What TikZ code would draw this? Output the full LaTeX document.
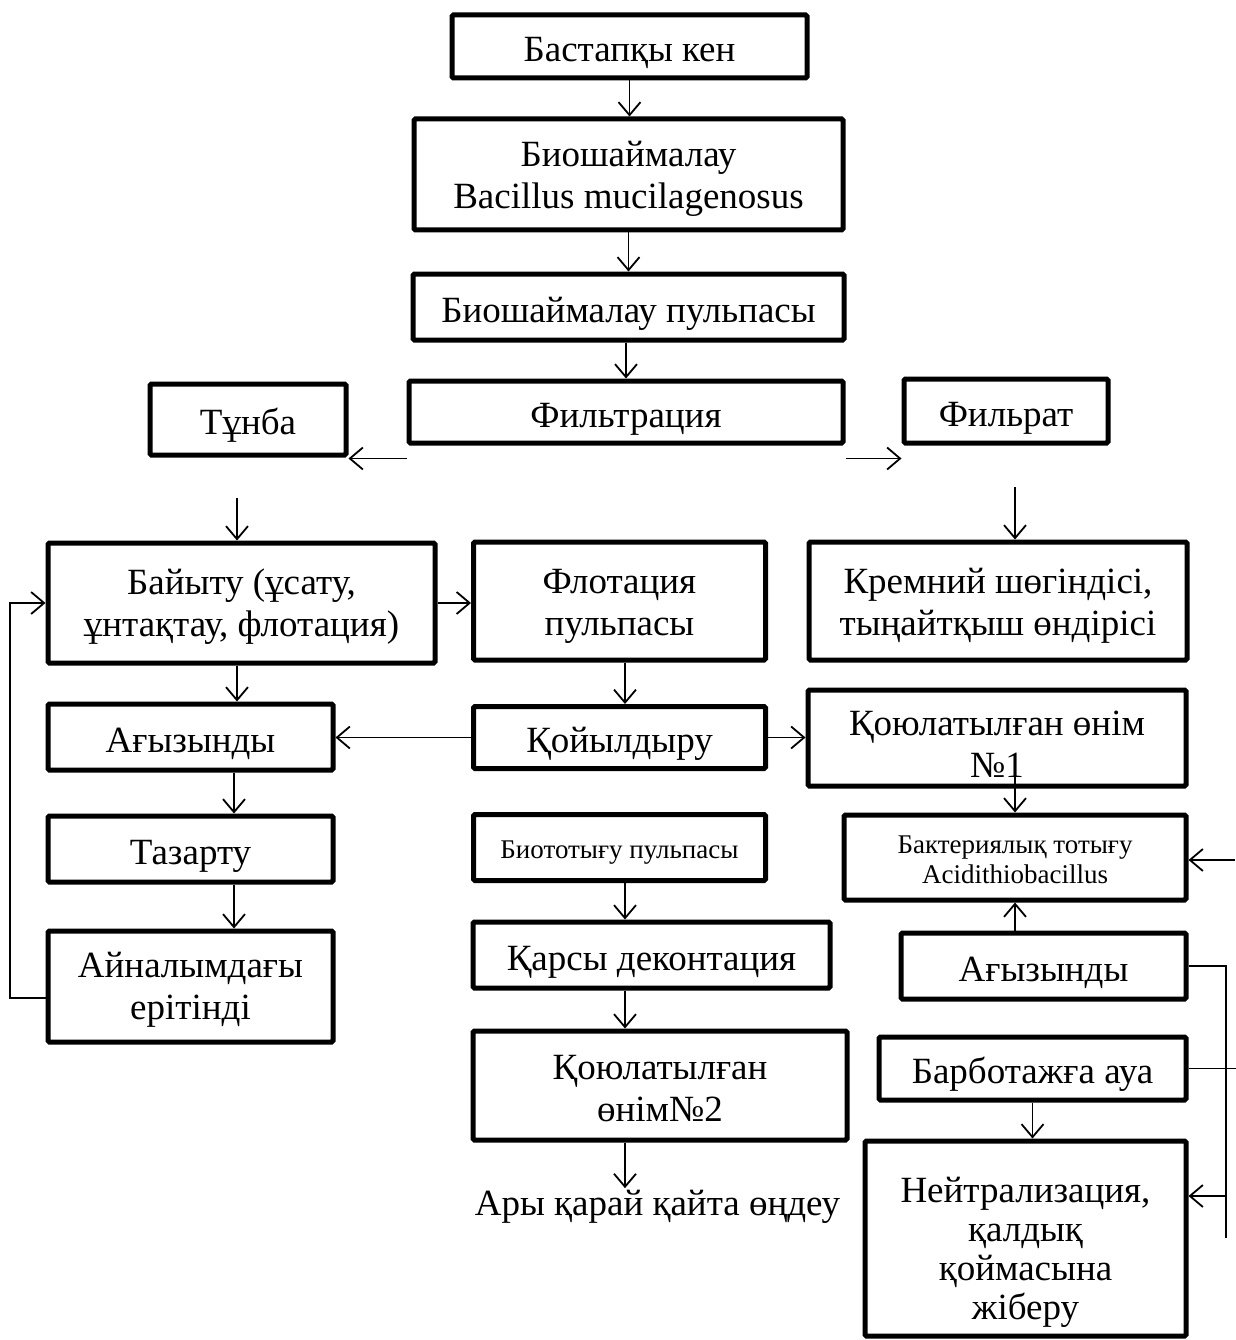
\documentclass[tikz,border=0pt]{standalone}
\usepackage{fontspec}
\setmainfont{Liberation Serif}
\usetikzlibrary{arrows.meta}
\newcommand\tstrut[1]{\rule{0pt}{#1}}
\begin{document}
\begin{tikzpicture}[x=1pt,y=-1pt,
  box/.style={draw,line width=5pt,rounded corners=1.5pt,align=center,inner sep=0pt,
    font=\fontsize{37}{42}\selectfont,
    execute at begin node={\rule{0pt}{1.03em}},
    execute at end node={\rule[-0.16em]{0pt}{0pt}}},
  smallbox/.style={box,font=\fontsize{27}{30}\selectfont},
  txt/.style={font=\fontsize{37}{42}\selectfont,align=center,inner sep=2pt},
  conn/.style={line width=1.8pt,-{Straight Barb[length=13pt,width=22pt,line width=1.8pt]}},
  plain/.style={line width=1.8pt}]
\useasboundingbox (0,0) rectangle (1235,1340);
% top column
\node[box,minimum width=355pt,minimum height=63pt] (bast) at (629.5,46.5) {Бастапқы кен};
\node[box,minimum width=429pt,minimum height=111pt] (bio) at (628.5,174.5) {\tstrut{33pt}Биошаймалау\\Bacillus mucilagenosus};
\node[box,minimum width=431pt,minimum height=66pt] (pulp) at (628.5,307) {Биошаймалау пульпасы};
\node[box,minimum width=434pt,minimum height=62pt] (filt) at (626,412) {Фильтрация};
\node[box,minimum width=196pt,minimum height=71pt] (tunba) at (248,419.5) {Тұнба};
\node[box,minimum width=204pt,minimum height=64pt] (filrat) at (1006,411) {Фильрат};
% left column
\node[box,minimum width=387pt,minimum height=120pt] (bayitu) at (241.5,603) {\tstrut{33pt}Байыту (ұсату,\\ұнтақтау, флотация)};
\node[box,minimum width=285pt,minimum height=66pt] (agiz1) at (190.5,737) {Ағызынды};
\node[box,minimum width=285pt,minimum height=66pt] (tazartu) at (190.5,849) {Тазарту};
\node[box,minimum width=285pt,minimum height=111pt] (ainal) at (190.5,986.5) {\tstrut{31pt}Айналымдағы\\ерітінді};
% middle column
\node[box,minimum width=292pt,minimum height=118pt] (flot) at (619.5,601) {\tstrut{35pt}Флотация\\пульпасы};
\node[box,minimum width=292pt,minimum height=62pt] (qoyil) at (619.5,737.5) {Қойылдыру};
\node[smallbox,minimum width=292pt,minimum height=66pt] (biotot) at (619.5,847.5) {Биототығу пульпасы};
\node[box,minimum width=357pt,minimum height=66pt] (qarsy) at (651.5,955) {Қарсы деконтация};
\node[box,minimum width=374pt,minimum height=109pt] (qoyu2) at (660,1085.5) {\tstrut{36pt}Қоюлатылған\\өнім№2};
\node[txt] (ary) at (657.5,1207) {Ары қарай қайта өңдеу};
% right column
\node[box,minimum width=378pt,minimum height=118pt] (krem) at (998,601) {\tstrut{35pt}Кремний шөгіндісі,\\тыңайтқыш өндірісі};
\node[box,minimum width=378pt,minimum height=96pt] (qoyu1) at (997,738) {};
\node[txt,inner sep=0pt] (qoyu1t) at (997,744) {Қоюлатылған өнім\\№1};
\node[smallbox,minimum width=342pt,minimum height=85pt] (bakt) at (1015,857.5) {\tstrut{27pt}Бактериялық тотығу\\Acidithiobacillus};
\node[box,minimum width=285pt,minimum height=66pt] (agiz2) at (1043.5,966) {Ағызынды};
\node[box,minimum width=307pt,minimum height=63pt] (barbo) at (1032.5,1068.5) {Барботажға ауа};
\node[box,font=\fontsize{37}{39}\selectfont,minimum width=321pt,minimum height=195pt] (neit) at (1025.5,1238.5) {\tstrut{52pt}Нейтрализация,\\қалдық\\қоймасына\\жіберу};
% helper coordinates
\coordinate (c1) at (237,498);
\coordinate (c2) at (1015,487);
\coordinate (lx) at (234,0);
\coordinate (mx) at (625,0);
\coordinate (fb) at (10,998);
\coordinate (rb) at (1235,860);
\coordinate (rv) at (1226,1238);
\coordinate (re) at (1236,0);
\coordinate (nj) at (1226,1196);
\coordinate (fl) at ([yshift=-13pt]filt.south west);
\coordinate (fr) at ([yshift=-13pt]filt.south east);
% connectors
\draw[conn] (bast.south) -- (bast.south |- bio.north);
\draw[conn] (bio.south) -- (bio.south |- pulp.north);
\draw[conn] (pulp.south -| filt.north) -- (filt.north);
\draw[conn] (fl) -- (fl -| tunba.east);
\draw[conn] (fr) -- (fr -| filrat.west);
\draw[conn] (c1) -- (c1 |- bayitu.north);
\draw[conn] (c2) -- (c2 |- krem.north);
\draw[conn] (bayitu.east) -- (bayitu.east -| flot.west);
\draw[conn] (bayitu.south -| c1) -- (agiz1.north -| c1);
\draw[conn] (flot.south -| mx) -- (qoyil.north -| mx);
\draw[conn] (qoyil.west) -- (qoyil.west -| agiz1.east);
\draw[conn] (qoyil.east) -- (qoyil.east -| qoyu1.west);
\draw[conn] (agiz1.south -| lx) -- (tazartu.north -| lx);
\draw[conn] (tazartu.south -| lx) -- (ainal.north -| lx);
\draw[conn] (ainal.west |- fb) -- (fb) |- (bayitu.west);
\draw[conn] (biotot.south -| mx) -- (qarsy.north -| mx);
\draw[conn] (qarsy.south -| mx) -- (qoyu2.north -| mx);
\draw[conn] (qoyu2.south -| mx) -- (ary.north -| mx);
\draw[conn] ([yshift=13pt]qoyu1.south -| bakt.north) -- (bakt.north);
\draw[conn] (agiz2.north -| bakt.south) -- (bakt.south);
\draw[conn] (rb) -- (rb -| bakt.east);
\draw[plain] (agiz2.east) -| (rv);
\draw[plain] (barbo.east) -- (barbo.east -| re);
\draw[conn] (nj) -- (nj -| neit.east);
\draw[conn] (barbo.south) -- (barbo.south |- neit.north);
\end{tikzpicture}
\end{document}
